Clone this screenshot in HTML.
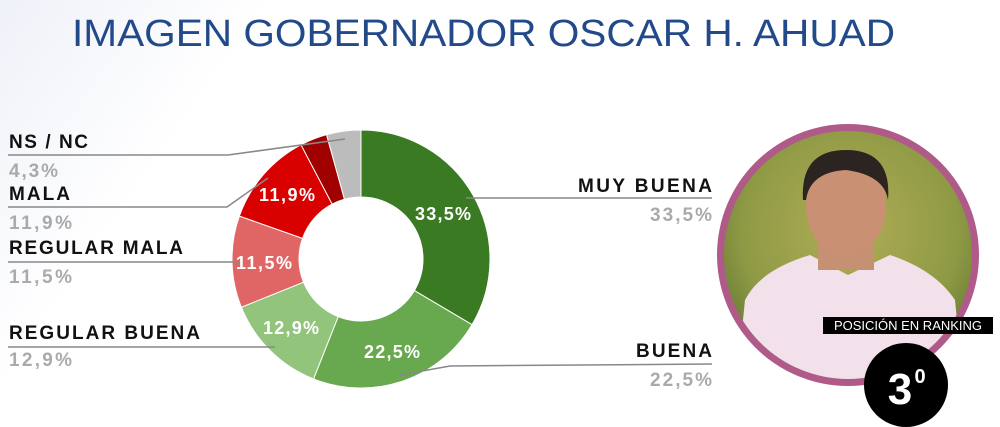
<!DOCTYPE html>
<html><head><meta charset="utf-8"><style>
html,body{margin:0;padding:0;background:#fff;}
body{width:1000px;height:427px;overflow:hidden;position:relative;font-family:"Liberation Sans",sans-serif;}
</style></head><body>
<svg width="1000" height="427" viewBox="0 0 1000 427" xmlns="http://www.w3.org/2000/svg" style="position:absolute;left:0;top:0">
<defs>
<linearGradient id="bg" x1="0" y1="0" x2="1" y2="0.3"><stop offset="0" stop-color="#eef1f8"/><stop offset="0.25" stop-color="#fff"/></linearGradient>
<radialGradient id="ph" cx="0.5" cy="0.4" r="0.6"><stop offset="0" stop-color="#b0ad55"/><stop offset="0.6" stop-color="#8f9a45"/><stop offset="1" stop-color="#4e6a2a"/></radialGradient>
<clipPath id="cc"><circle cx="848" cy="255" r="124"/></clipPath>
</defs>
<rect width="1000" height="427" fill="url(#bg)"/>
<text x="72" y="46" font-size="38" fill="#22498a" textLength="823" lengthAdjust="spacingAndGlyphs" font-family="Liberation Sans,sans-serif">IMAGEN GOBERNADOR  OSCAR H. AHUAD</text>
<g id="donut"></g>
<g stroke="#888" stroke-width="1.5" fill="none">
<polyline points="8,155 228,155 345,139"/>
<polyline points="8,207 227,207 268,178"/>
<polyline points="8,262 240,262"/>
<polyline points="8,347 275,347"/>
<polyline points="466,198 712,198"/>
<polyline points="400,375 450,366 712,364"/>
</g>
<g font-weight="bold" font-size="19" fill="#111" lengthAdjust="spacingAndGlyphs">
<text x="9" y="148" textLength="79">NS / NC</text>
<text x="9" y="200" textLength="61">MALA</text>
<text x="9" y="254" textLength="174">REGULAR MALA</text>
<text x="9" y="339" textLength="191">REGULAR BUENA</text>
<text x="578" y="192" textLength="134">MUY BUENA</text>
<text x="636" y="357" textLength="76">BUENA</text>
</g>
<g font-weight="bold" font-size="19" fill="#aaa">
<text x="9" y="177" textLength="49">4,3%</text>
<text x="9" y="229" textLength="63">11,9%</text>
<text x="9" y="283" textLength="63">11,5%</text>
<text x="9" y="366" textLength="63">12,9%</text>
<text x="650" y="221" textLength="62">33,5%</text>
<text x="650" y="386" textLength="62">22,5%</text>
</g>
<g font-weight="bold" font-size="18" fill="#fff">
<text x="415" y="220" textLength="56">33,5%</text>
<text x="364" y="358" textLength="56">22,5%</text>
<text x="263" y="334" textLength="56">12,9%</text>
<text x="236" y="269" textLength="56">11,5%</text>
<text x="259" y="201" textLength="56">11,9%</text>
</g>
<circle cx="848" cy="255" r="131" fill="#b05a8a"/>
<g clip-path="url(#cc)">
<rect x="700" y="110" width="300" height="300" fill="url(#ph)"/>
<path d="M735,400 L745,300 Q760,270 810,255 L848,275 L890,255 Q935,270 955,300 L965,400 Z" fill="#f2e0ea"/>
<rect x="818" y="225" width="56" height="45" fill="#c69072"/>
<ellipse cx="846" cy="205" rx="40" ry="52" fill="#c99073"/>
<path d="M803,200 Q800,150 846,150 Q892,150 888,200 Q884,175 846,170 Q810,172 806,200 Z" fill="#2b2420"/>
</g>
<rect x="823" y="317" width="170" height="17" fill="#000"/>
<text x="908" y="330" font-size="13" fill="#fff" text-anchor="middle">POSICIÓN EN RANKING</text>
<circle cx="906" cy="385" r="42" fill="#000"/>
<text x="900" y="404" font-size="44" font-weight="bold" fill="#fff" text-anchor="middle">3</text>
<text x="920" y="383" font-size="20" font-weight="bold" fill="#fff" text-anchor="middle">0</text>
</svg>
<script>
(function(){
var cx=361,cy=259,R=129,r=62;
var v=[[33.5,"#3a7a22"],[22.5,"#68a84e"],[12.9,"#92c47c"],[11.5,"#e06666"],[11.9,"#d90000"],[3.4,"#a00000"],[4.3,"#bcbcbc"]];
var a=0,g=document.getElementById("donut"),s="";
function pt(rad,ang){var t=ang/100*2*Math.PI;return [cx+rad*Math.sin(t),cy-rad*Math.cos(t)];}
v.forEach(function(d){var b=a+d[0];var p1=pt(R,a),p2=pt(R,b),p3=pt(r,b),p4=pt(r,a);var l=d[0]>50?1:0;
s+='<path d="M'+p1+' A'+R+','+R+' 0 '+l+' 1 '+p2+' L'+p3+' A'+r+','+r+' 0 '+l+' 0 '+p4+' Z" fill="'+d[1]+'" stroke="#fff" stroke-width="1"/>';a=b;});
g.innerHTML=s;
})();
</script>
</body></html>
